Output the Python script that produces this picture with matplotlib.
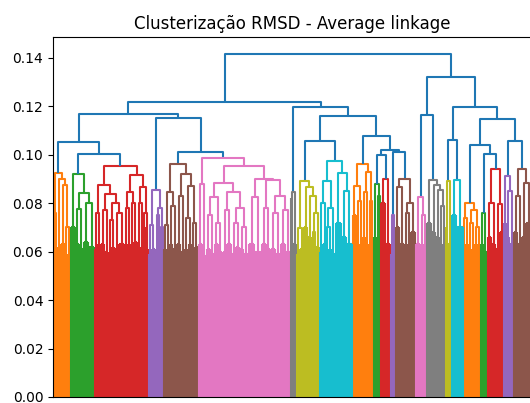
import itertools
import matplotlib
matplotlib.use("Agg")
import matplotlib.pyplot as plt
from matplotlib.collections import LineCollection

# grupo de folhas: [n_folhas, altura]   no: (altura, esquerda, direita)
orange_a = (0.0924, (0.076, [2, 0.060], [2, 0.062]),
            (0.0898, [3, 0.061],
             (0.0873, [5, 0.063], (0.070, [2, 0.059], [3, 0.058]))))
green_a = (0.0922, [5, 0.070],
           (0.084, (0.0774, [4, 0.063], [4, 0.061]),
            (0.080, [5, 0.064], [6, 0.062])))
red_a = (0.0955,
         (0.0873, (0.076, [3, 0.061], [3, 0.063]),
          (0.0836, (0.077, [4, 0.063], [4, 0.060]),
           (0.080, (0.073, [3, 0.059], [3, 0.062]),
            (0.076, [4, 0.061], [5, 0.063])))),
         (0.0918, (0.0844, (0.078, [3, 0.060], [3, 0.063]),
                   (0.080, [3, 0.061], [4, 0.064])),
          (0.0865, (0.080, [3, 0.062], [3, 0.060]),
           (0.076, [2, 0.070], [3, 0.061]))))
purple_a = (0.0856, (0.0708, [3, 0.059], [4, 0.061]),
            (0.078, (0.075, [2, 0.060], [2, 0.063]),
             (0.070, [2, 0.059], [2, 0.061])))
brown_a = (0.0963,
           (0.0844, (0.0708, [3, 0.061], [3, 0.059]),
            (0.079, [3, 0.063], [4, 0.061])),
           (0.0922, (0.083, [4, 0.063], [4, 0.060]),
            (0.0869, (0.074, [3, 0.061], [3, 0.063]),
             (0.072, [3, 0.059], [4, 0.062]))))
pink_a = (0.0985, (0.0877, [4, 0.063], [4, 0.058]),
          (0.0955,
           (0.0885, (0.0824, (0.075, [4, 0.061], [4, 0.059]),
                     (0.072, [4, 0.063], [4, 0.060])),
            (0.0844, (0.077, [4, 0.060], [5, 0.063]),
             (0.078, (0.072, [4, 0.059], [4, 0.062]),
              (0.070, [4, 0.061], [5, 0.059])))),
           (0.090, (0.0824, [6, 0.063], [6, 0.060]),
            (0.0894, (0.078, [5, 0.063], [4, 0.061]),
             (0.083, (0.076, [5, 0.061], [5, 0.059]),
              (0.077, [5, 0.063], [5, 0.060]))))))
gray_a = (0.0844, [2, 0.082], [4, 0.063])
olive_a = (0.089, (0.0696, [3, 0.059], [4, 0.061]),
           (0.0865, [4, 0.070],
            (0.083, [4, 0.066],
             (0.076, (0.068, [2, 0.059], [2, 0.061]), [4, 0.062]))))
cyan_a = (0.0976,
          (0.089, (0.080, [3, 0.060], [3, 0.063]),
           (0.078, (0.070, [2, 0.059], [3, 0.061]), [4, 0.059])),
          (0.0926, [6, 0.072], (0.085, [5, 0.066], [6, 0.063])))
orange_b = (0.0963,
            (0.0869, [4, 0.075], (0.081, [3, 0.063], [3, 0.061])),
            (0.0927, (0.0844, [3, 0.066], [3, 0.061]),
             (0.081, [2, 0.063], [3, 0.060])))
green_b = (0.088, [3, 0.066], (0.083, [2, 0.059], [2, 0.062]))
red_b = (0.090, [5, 0.080], [5, 0.063])
purple_b = (0.075, [2, 0.059], [2, 0.061])
brown_b = (0.090, (0.0865, [4, 0.070], [5, 0.063]),
           (0.080, (0.076, [3, 0.061], [3, 0.063]), [5, 0.068]))
pink_b = (0.0824, [5, 0.063], (0.075, [3, 0.061], [3, 0.063]))
gray_b = (0.0896, [5, 0.072],
          (0.0873, [4, 0.068],
           (0.0853, [4, 0.066], (0.079, [3, 0.061], [3, 0.063]))))
olive_b = (0.089, [2, 0.070], [4, 0.063])
cyan_b = (0.0894, [5, 0.075], [6, 0.070])
orange_c = (0.080, (0.0737, [2, 0.061], [3, 0.063]),
            (0.077, (0.072, [3, 0.061], [3, 0.059]),
             (0.070, [3, 0.063], [3, 0.060])))
green_c = (0.0758, [3, 0.063], [4, 0.060])
red_c = (0.0939, (0.080, [4, 0.066], [4, 0.063]),
         (0.0795, [4, 0.061], [4, 0.068]))
purple_c = (0.0914, [3, 0.072], (0.085, [3, 0.066], [4, 0.063]))
brown_c = (0.0939, (0.083, [4, 0.068], [4, 0.063]),
           (0.0885, [4, 0.066], [5, 0.072]))

tree = (0.1415,
        (0.1216,
         (0.1168,
          (0.1054, orange_a, (0.1001, green_a, red_a)),
          (0.1150, purple_a, (0.1013, brown_a, pink_a))),
         (0.1195, gray_a,
          (0.1160, (0.1058, olive_a, cyan_a),
           (0.1079, orange_b,
            (0.1020, (0.0997, green_b, red_b), (0.1013, purple_b, brown_b)))))),
        (0.1322,
         (0.1164, pink_b, gray_b),
         (0.1198, (0.1061, olive_b, cyan_b),
          (0.1148, (0.1041, orange_c, (0.1004, green_c, red_c)),
           (0.1058, purple_c, brown_c)))))

thr = 0.7 * tree[0]
cores = itertools.cycle(["C1", "C2", "C3", "C4", "C5", "C6", "C7", "C8", "C9"])
segs = {}
pos = [0]


def add(c, pts):
    segs.setdefault(c, []).append(pts)


def draw(node, color):
    h = node[1] if isinstance(node, list) else node[0]
    if color is None and h < thr:
        color = next(cores)
    if isinstance(node, list):
        n = node[0]
        xs = [5 + 10 * (pos[0] + k) for k in range(n)]
        pos[0] += n
        for x in xs:
            add(color, [(x, 0), (x, h)])
        add(color, [(xs[0], h), (xs[-1], h)])
        return (xs[0] + xs[-1]) / 2, h
    xl, hl = draw(node[1], color)
    xr, hr = draw(node[2], color)
    add(color or "C0", [(xl, hl), (xl, h), (xr, h), (xr, hr)])
    return (xl + xr) / 2, h


fig = plt.figure(figsize=(5.3, 4.03), dpi=100)
ax = fig.add_axes([0.1, 0.0149, 0.902, 0.8933])
draw(tree, None)
for c, s in segs.items():
    ax.add_collection(LineCollection(s, colors=c, linewidths=1.5))

ax.set_xlim(0, 10 * pos[0])
ax.set_ylim(0, tree[0] * 1.05)
ax.set_xticks([])
ax.set_yticks([0, 0.02, 0.04, 0.06, 0.08, 0.10, 0.12, 0.14])
ax.set_title("Clusterização RMSD - Average linkage")

fig.savefig("out.png", dpi=100)
